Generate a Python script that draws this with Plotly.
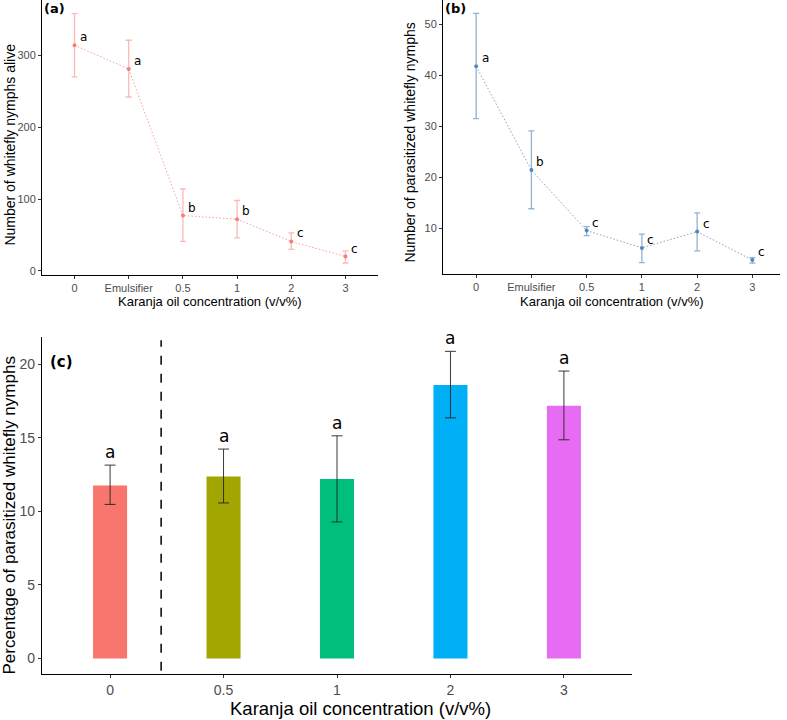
import plotly.graph_objects as go

W, H = 787, 720

# ---------- data ----------
cats_ab = ["0", "Emulsifier", "0.5", "1", "2", "3"]

alive_mean = [314, 281, 77, 72, 41, 20]
alive_hi = [358, 321, 114, 98, 53, 28]
alive_lo = [270, 242, 41, 46, 30, 11]
alive_letters = ["a", "a", "b", "b", "c", "c"]

para_mean = [41.8, 21.4, 9.5, 6.1, 9.3, 3.7]
para_hi = [52.2, 29.1, 10.3, 8.8, 13.0, 4.2]
para_lo = [31.5, 13.8, 8.5, 3.2, 5.5, 3.1]
para_letters = ["a", "b", "c", "c", "c", "c"]

cats_c = ["0", "0.5", "1", "2", "3"]
pct_mean = [11.76, 12.37, 12.19, 18.58, 17.18]
pct_hi = [13.14, 14.23, 15.13, 20.87, 19.53]
pct_lo = [10.47, 10.57, 9.28, 16.35, 14.86]
pct_letters = ["a", "a", "a", "a", "a"]
bar_colors = ["#F8766D", "#A3A500", "#00BF7D", "#00B0F6", "#E76BF3"]

xlabel = "Karanja oil concentration (v/v%)"

fig = go.Figure()

# panel (a)
fig.add_trace(go.Scatter(
    x=cats_ab, y=alive_mean, mode="lines+markers",
    line=dict(color="rgba(248,118,109,0.7)", width=1, dash="1.5px,2px"),
    marker=dict(color="rgba(248,118,109,0.9)", size=4),
    error_y=dict(type="data", symmetric=False,
                 array=[h - m for h, m in zip(alive_hi, alive_mean)],
                 arrayminus=[m - l for m, l in zip(alive_mean, alive_lo)],
                 color="rgba(248,118,109,0.5)", thickness=1.3, width=3),
    xaxis="x", yaxis="y", showlegend=False))

# panel (b)
fig.add_trace(go.Scatter(
    x=cats_ab, y=para_mean, mode="lines+markers",
    line=dict(color="rgba(70,130,180,0.7)", width=1, dash="1.5px,2px"),
    marker=dict(color="rgba(70,130,180,0.9)", size=4),
    error_y=dict(type="data", symmetric=False,
                 array=[h - m for h, m in zip(para_hi, para_mean)],
                 arrayminus=[m - l for m, l in zip(para_mean, para_lo)],
                 color="rgba(70,130,180,0.6)", thickness=1.3, width=3),
    xaxis="x2", yaxis="y2", showlegend=False))

# panel (c)
fig.add_trace(go.Bar(
    x=cats_c, y=pct_mean, width=0.3, marker=dict(color=bar_colors, line=dict(width=0)),
    error_y=dict(type="data", symmetric=False,
                 array=[h - m for h, m in zip(pct_hi, pct_mean)],
                 arrayminus=[m - l for m, l in zip(pct_mean, pct_lo)],
                 color="#222222", thickness=0.9, width=5.5),
    xaxis="x3", yaxis="y3", showlegend=False))

ann = []
lf = dict(family="DejaVu Sans", size=12, color="black")
# category axes: annotations placed by category index
for i, (m, t) in enumerate(zip(alive_mean, alive_letters)):
    ann.append(dict(x=i, y=m, xref="x", yref="y", text=t, showarrow=False,
                    xanchor="center", yanchor="middle",
                    xshift=9, yshift=8, font=lf))
for i, (m, t) in enumerate(zip(para_mean, para_letters)):
    ann.append(dict(x=i, y=m, xref="x2", yref="y2", text=t, showarrow=False,
                    xanchor="center", yanchor="middle",
                    xshift=9, yshift=8, font=lf))
for i, (m, t) in enumerate(zip(pct_hi, pct_letters)):
    ann.append(dict(x=i, y=m, xref="x3", yref="y3", text=t, showarrow=False,
                    xanchor="center", yanchor="bottom", yshift=1,
                    font=dict(family="DejaVu Sans", size=17, color="black")))


def pa(xp, yp, text, font, angle=0):
    return dict(x=xp / W, y=1 - yp / H, xref="paper", yref="paper", text=text,
                showarrow=False, xanchor="center", yanchor="middle",
                textangle=angle, font=font)


tf = dict(family="Liberation Sans, Arial", size=13, color="black")
tfy = dict(family="Liberation Sans, Arial", size=14, color="black")
ann += [
    pa(210, 302, xlabel, tf),
    pa(612, 302, xlabel, tf),
    pa(10, 145, "Number of whitefly nymphs alive", tfy, -90),
    pa(410, 143, "Number of parasitized whitefly nymphs", tfy, -90),
    pa(360, 710, xlabel, dict(family="Liberation Sans, Arial", size=18.5, color="black")),
    pa(10, 517, "Percentage of parasitized whitefly nymphs",
       dict(family="Liberation Sans, Arial", size=17, color="black"), -90),
    pa(54, 9, "<b>(a)</b>", dict(family="DejaVu Sans", size=13, color="black")),
    pa(455, 9, "<b>(b)</b>", dict(family="DejaVu Sans", size=13, color="black")),
    pa(61, 363, "<b>(c)</b>", dict(family="DejaVu Sans", size=15, color="black")),
]

tickf = dict(family="Liberation Sans, Arial", size=11, color="#4d4d4d")
axcommon = dict(showline=True, linecolor="black", linewidth=1, ticks="outside",
                ticklen=3, tickcolor="#333333", showgrid=False, zeroline=False,
                tickfont=tickf)
ctick = dict(family="Liberation Sans Narrow, Liberation Sans, Arial", size=14, color="#4d4d4d")

fig.update_layout(
    width=W, height=H, margin=dict(l=0, r=0, t=0, b=0),
    paper_bgcolor="white", plot_bgcolor="white",
    xaxis=dict(domain=[42 / W, 378 / W], type="category", range=[-0.6, 5.6],
               anchor="y", **axcommon),
    yaxis=dict(domain=[1 - 276 / H, 1.0], range=[-6, 377], tickvals=[0, 100, 200, 300],
               anchor="x", **axcommon),
    xaxis2=dict(domain=[443 / W, 780 / W], type="category", range=[-0.6, 5.5],
                anchor="y2", **axcommon),
    yaxis2=dict(domain=[1 - 275 / H, 1.0], range=[0.92, 54.84], tickvals=[10, 20, 30, 40, 50],
                anchor="x2", **axcommon),
    xaxis3=dict(domain=[42 / W, 632 / W], type="category", range=[-0.6, 4.6],
                anchor="y3", **{**axcommon, "tickfont": ctick, "linewidth": 1.3}),
    yaxis3=dict(domain=[1 - 676 / H, 1 - 337.7 / H], range=[-1.06, 21.86],
                tickvals=[0, 5, 10, 15, 20], anchor="x3",
                **{**axcommon, "tickfont": ctick, "linewidth": 1.3}),
    annotations=ann,
    shapes=[dict(type="line", xref="x3", yref="y3 domain", x0=0.45, x1=0.45,
                 y0=0.01, y1=0.99, line=dict(color="black", width=1.5, dash="dash"))],
)

fig.write_html("out.html")
